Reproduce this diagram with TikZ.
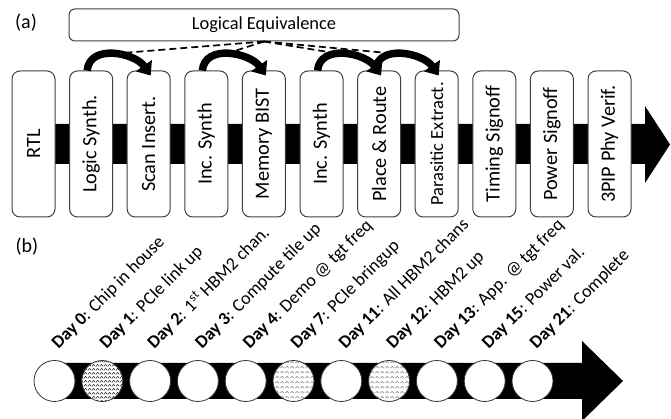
\documentclass[tikz,border=0pt]{standalone}
\usepackage{fontspec}
\setmainfont{Carlito}
\usetikzlibrary{arrows.meta,patterns}

% fill patterns for the milestone circles
\pgfdeclarepatternformonly{zigzag}{\pgfpointorigin}{\pgfpoint{4pt}{4pt}}{\pgfpoint{4pt}{4pt}}{
  \pgfsetlinewidth{0.6pt}
  \pgfpathmoveto{\pgfpoint{0pt}{0.8pt}}
  \pgfpathlineto{\pgfpoint{2pt}{3.2pt}}
  \pgfpathlineto{\pgfpoint{4pt}{0.8pt}}
  \pgfusepath{stroke}
}
\pgfdeclarepatternformonly{scales}{\pgfpointorigin}{\pgfpoint{5pt}{5pt}}{\pgfpoint{5pt}{5pt}}{
  \pgfsetlinewidth{0.7pt}
  \pgfpathmoveto{\pgfpoint{0.5pt}{1pt}}
  \pgfpatharc{180}{0}{2pt}
  \pgfusepath{stroke}
}

\begin{document}
\begin{tikzpicture}
  [x=1pt,y=1pt,every node/.style={inner sep=0pt},
   stage/.style={draw=black!75,line width=1pt,fill=white,rounded corners=8pt,
     minimum width=43pt,minimum height=146pt,font=\fontsize{20.3}{22}\selectfont},
   mile/.style={circle,draw=black!80,line width=0.8pt,fill=white,minimum size=41pt},
   day/.style={anchor=south west,font=\fontsize{18}{20}\selectfont},
   hop/.style={line width=7.5pt,-{Triangle[width=19pt,length=12pt]}},
   nopat/.style={},
   zigpat/.style={preaction={fill=white},pattern=zigzag,pattern color=black!85},
   wavepat/.style={preaction={fill=white},pattern=scales,pattern color=black!50}]

  \clip (0,0) rectangle (671,419);

  % (a) tool flow
  \node[font=\fontsize{20}{22}\selectfont] (la) at (26,396) {(a)};
  \fill (33,295) -- (645,295) -- (645,313) -- (670,274.5) -- (645,236)
    -- (645,255) -- (33,255) -- cycle;

  \node[stage] (rtl) at (33.5,275) {\rotatebox{90}{RTL}};
  \node[stage] (syn) at (91.1,275) {\rotatebox{90}{Logic Synth.}};
  \node[stage] (scan) at (148.7,275) {\rotatebox{90}{Scan Insert.}};
  \node[stage] (inc1) at (206.3,275) {\rotatebox{90}{Inc. Synth}};
  \node[stage] (bist) at (263.9,275) {\rotatebox{90}{Memory BIST}};
  \node[stage] (inc2) at (321.5,275) {\rotatebox{90}{Inc. Synth}};
  \node[stage] (pnr) at (379.1,275) {\rotatebox{90}{Place \& Route}};
  \node[stage,font=\fontsize{18.5}{20}\selectfont] (pex) at (436.7,275) {\rotatebox{90}{Parasitic Extract.}};
  \node[stage] (sta) at (494.3,275) {\rotatebox{90}{Timing Signoff}};
  \node[stage] (pwr) at (551.9,275) {\rotatebox{90}{Power Signoff}};
  \node[stage] (phy) at (609.5,275) {\rotatebox{90}{3PIP Phy Verif.}};

  \node[draw=black!75,line width=1pt,rounded corners=6pt,minimum width=390pt,
    minimum height=32pt,font=\fontsize{18.4}{20}\selectfont] (leq) at (264,394) {Logical Equivalence};

  \foreach \from/\to/\top in {syn/scan/t1,inc1/bist/t2,inc2/pnr/t3,pnr/pex/t4}
    \draw[hop] ([xshift=-4pt]\from.north) to[out=84,in=125,looseness=1.1]
      coordinate[pos=0.45] (\top) ([xshift=2pt,yshift=-5pt]\to.north);
  \foreach \top in {t1,t2,t3,t4}
    \draw[line width=1.7pt,dash pattern=on 7pt off 4pt] (leq.south) -- (\top);

  % (b) bring-up timeline
  \node[font=\fontsize{20}{22}\selectfont] (lb) at (27,172) {(b)};
  \fill (54.5,56) -- (582,56) -- (582,78) -- (623,38) -- (582,-2)
    -- (582,20) -- (54.5,20) -- cycle;

  \foreach \d/\txt/\look [count=\n from 0] in {0/Chip in house/nopat,
      1/PCIe link up/zigpat, 2/1\textsuperscript{st} HBM2 chan./nopat,
      3/Compute tile up/nopat, 4/Demo @ tgt freq/nopat, 7/PCIe bringup/wavepat,
      11/All HBM2 chans/nopat, 12/HBM2 up/wavepat, 13/App. @ tgt freq/nopat,
      15/Power val./nopat, 21/Complete/nopat}
  {
    \node[mile,\look] (m\n) at (54.5+47.8*\n,38) {};
    \node[day] (d\n) at (48.6+47.8*\n,64.8)
      {\rotatebox{45}{\strut\textbf{Day \d}: \txt}};
  }
\end{tikzpicture}
\end{document}
